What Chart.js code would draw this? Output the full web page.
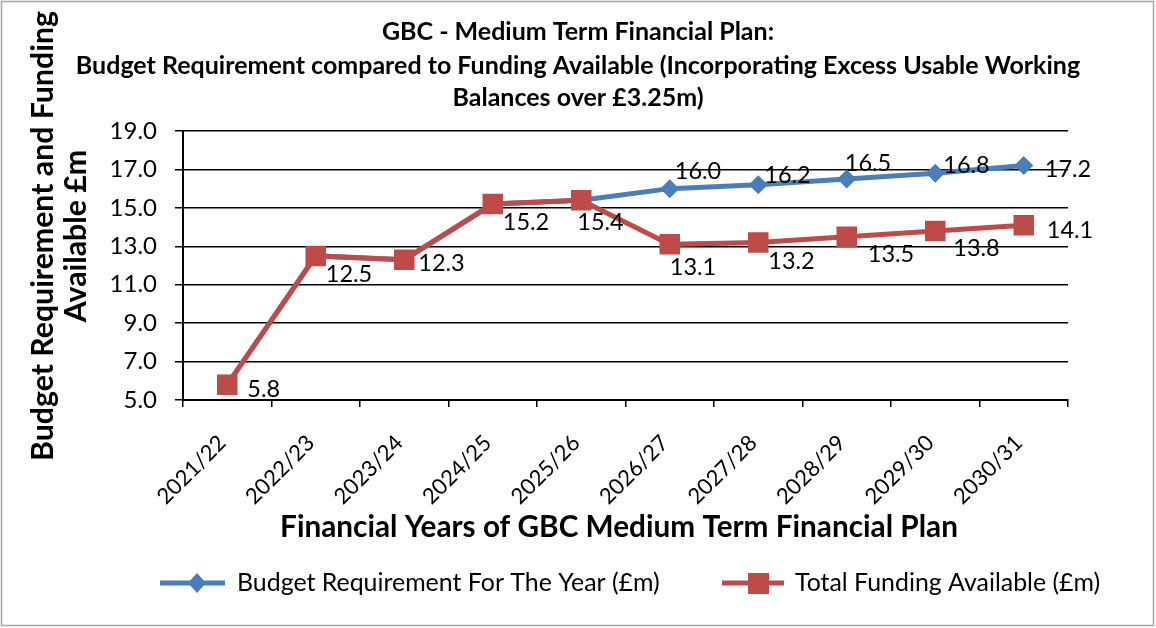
<!DOCTYPE html>
<html>
<head>
<meta charset="utf-8">
<script src="https://cdn.jsdelivr.net/npm/chart.js@4/dist/chart.umd.min.js"></script>
<style>
  html, body { margin: 0; padding: 0; background: #ffffff; }
  #wrap { width: 1156px; height: 628px; position: relative; }
</style>
</head>
<body>
<div id="wrap"><canvas id="c" width="1156" height="628"></canvas></div>
<script>
// ---- data ----
const categories = ["2021/22","2022/23","2023/24","2024/25","2025/26","2026/27","2027/28","2028/29","2029/30","2030/31"];
const budgetRequirement = [5.8, 12.5, 12.3, 15.2, 15.4, 16.0, 16.2, 16.5, 16.8, 17.2];
const totalFunding      = [5.8, 12.5, 12.3, 15.2, 15.4, 13.1, 13.2, 13.5, 13.8, 14.1];
const seriesNames = ["Budget Requirement For The Year (£m)", "Total Funding Available (£m)"];
const titleLines = [
  "GBC - Medium Term Financial Plan:",
  "Budget Requirement compared to Funding Available (Incorporating Excess Usable Working",
  "Balances over £3.25m)"
];
const yTitleLines = ["Budget Requirement and Funding", "Available £m"];
const xTitle = "Financial Years of GBC Medium Term Financial Plan";
const yMin = 5, yMax = 19, yStep = 2;

// label placement (style: offset of label from its point; null = hidden)
const budgetLabelOffsets = [null, null, null, null, null, [5,-17], [6,-9], [-2,-16], [8,-8], [21,4]];
const fundingLabelOffsets = [[20,5], [10,19], [14,4], [10,18], [-4,22], [0,23], [10,19], [21,18], [18,18], [23,5]];

const BLUE = '#4A7EBB';
const RED = '#BE4B48';
const FONT = 'Lato';

function fitSize(ctx, text, weight, target) {
  ctx.font = `${weight} 100px ${FONT}`;
  return 100 * target / ctx.measureText(text).width;
}

const textPlugin = {
  id: 'textPlugin',
  afterDatasetsDraw(chart) {
    const ctx = chart.ctx;
    ctx.save();
    ctx.fillStyle = '#000';
    ctx.textBaseline = 'middle';
    ctx.textAlign = 'left';
    ctx.font = `23.5px ${FONT}`;
    const offs = [budgetLabelOffsets, fundingLabelOffsets];
    chart.data.datasets.forEach((ds, di) => {
      const meta = chart.getDatasetMeta(di);
      meta.data.forEach((pt, i) => {
        const o = offs[di][i];
        if (!o) return;
        ctx.fillText(ds.data[i].toFixed(1), pt.x + o[0], pt.y + o[1]);
      });
    });
    ctx.restore();
  },
  afterDraw(chart) {
    const ctx = chart.ctx;
    ctx.save();
    ctx.fillStyle = '#000';
    // title
    const ts = fitSize(ctx, titleLines[1], 'bold', 1005);
    ctx.font = `bold ${ts}px ${FONT}`;
    ctx.textAlign = 'center';
    ctx.textBaseline = 'alphabetic';
    const tBase = [40, 74, 106];
    titleLines.forEach((l, i) => ctx.fillText(l, 578, tBase[i]));
    // x title
    const xs = fitSize(ctx, xTitle, 'bold', 678);
    ctx.font = `bold ${xs}px ${FONT}`;
    ctx.textBaseline = 'middle';
    ctx.fillText(xTitle, 619, 527);
    // y title
    const ys = fitSize(ctx, yTitleLines[0], 'bold', 450);
    ctx.font = `bold ${ys}px ${FONT}`;
    ctx.save();
    ctx.translate(0, 236);
    ctx.rotate(-Math.PI / 2);
    ctx.fillText(yTitleLines[0], 0, 43);
    ctx.fillText(yTitleLines[1], 0, 76);
    ctx.restore();
    // legend
    const ls = fitSize(ctx, seriesNames[0], 'normal', 423);
    ctx.font = `${ls}px ${FONT}`;
    ctx.textAlign = 'left';
    const ly = 583;
    // blue item
    ctx.strokeStyle = BLUE; ctx.lineWidth = 5;
    ctx.beginPath(); ctx.moveTo(160, ly); ctx.lineTo(225, ly); ctx.stroke();
    ctx.fillStyle = BLUE;
    ctx.beginPath(); ctx.moveTo(197, ly - 10); ctx.lineTo(206, ly); ctx.lineTo(197, ly + 10); ctx.lineTo(188, ly); ctx.closePath(); ctx.fill();
    ctx.fillStyle = '#000';
    ctx.fillText(seriesNames[0], 237, ly);
    // red item
    ctx.strokeStyle = RED;
    ctx.beginPath(); ctx.moveTo(722, ly); ctx.lineTo(784, ly); ctx.stroke();
    ctx.fillStyle = RED;
    ctx.fillRect(748, ly - 10, 21, 21);
    ctx.fillStyle = '#000';
    ctx.fillText(seriesNames[1], 795, ly);
    // outer border
    ctx.strokeStyle = '#a6a6a6'; ctx.lineWidth = 1.5;
    ctx.strokeRect(1.5, 1.5, 1152, 624);
    ctx.restore();
  }
};

new Chart(document.getElementById('c'), {
  type: 'line',
  data: {
    labels: categories,
    datasets: [
      {
        label: seriesNames[0], data: budgetRequirement, order: 2,
        borderColor: BLUE, backgroundColor: BLUE, borderWidth: 5,
        pointStyle: 'rectRot', pointRadius: 9.5, pointHoverRadius: 9.5,
        pointBackgroundColor: BLUE, pointBorderColor: BLUE, pointBorderWidth: 0,
        tension: 0, fill: false
      },
      {
        label: seriesNames[1], data: totalFunding, order: 1,
        borderColor: RED, backgroundColor: RED, borderWidth: 5,
        pointStyle: 'rect', pointRadius: 14.5, pointHoverRadius: 14.5,
        pointBackgroundColor: RED, pointBorderColor: RED, pointBorderWidth: 0,
        tension: 0, fill: false
      }
    ]
  },
  options: {
    responsive: false,
    animation: false,
    events: [],
    layout: { padding: { left: 90, top: 131, right: 88, bottom: 90 } },
    plugins: { legend: { display: false }, title: { display: false }, tooltip: { enabled: false } },
    scales: {
      x: {
        type: 'category',
        offset: true,
        afterFit(s) { s.height = 138; },
        grid: { display: true, drawOnChartArea: false, drawTicks: true, tickLength: 7, color: '#000', lineWidth: 1.5, offset: true },
        border: { display: true, color: '#000', width: 2 },
        ticks: { color: '#000', font: { family: FONT, size: 22 }, minRotation: 45, maxRotation: 45, padding: 23, labelOffset: -5, autoSkip: false }
      },
      y: {
        min: yMin, max: yMax,
        afterFit(s) { s.width = 93; },
        afterBuildTicks(s) {
          const t = [];
          for (let v = yMin; v <= yMax + 1e-9; v += yStep) t.push({ value: v });
          s.ticks = t;
        },
        grid: { color: '#000', lineWidth: 1.5, drawTicks: true, tickLength: 8 },
        border: { display: true, color: '#000', width: 2 },
        ticks: { color: '#000', font: { family: FONT, size: 24 }, padding: 18, callback: v => Number(v).toFixed(1) }
      }
    }
  },
  plugins: [textPlugin]
});
</script>
</body>
</html>
